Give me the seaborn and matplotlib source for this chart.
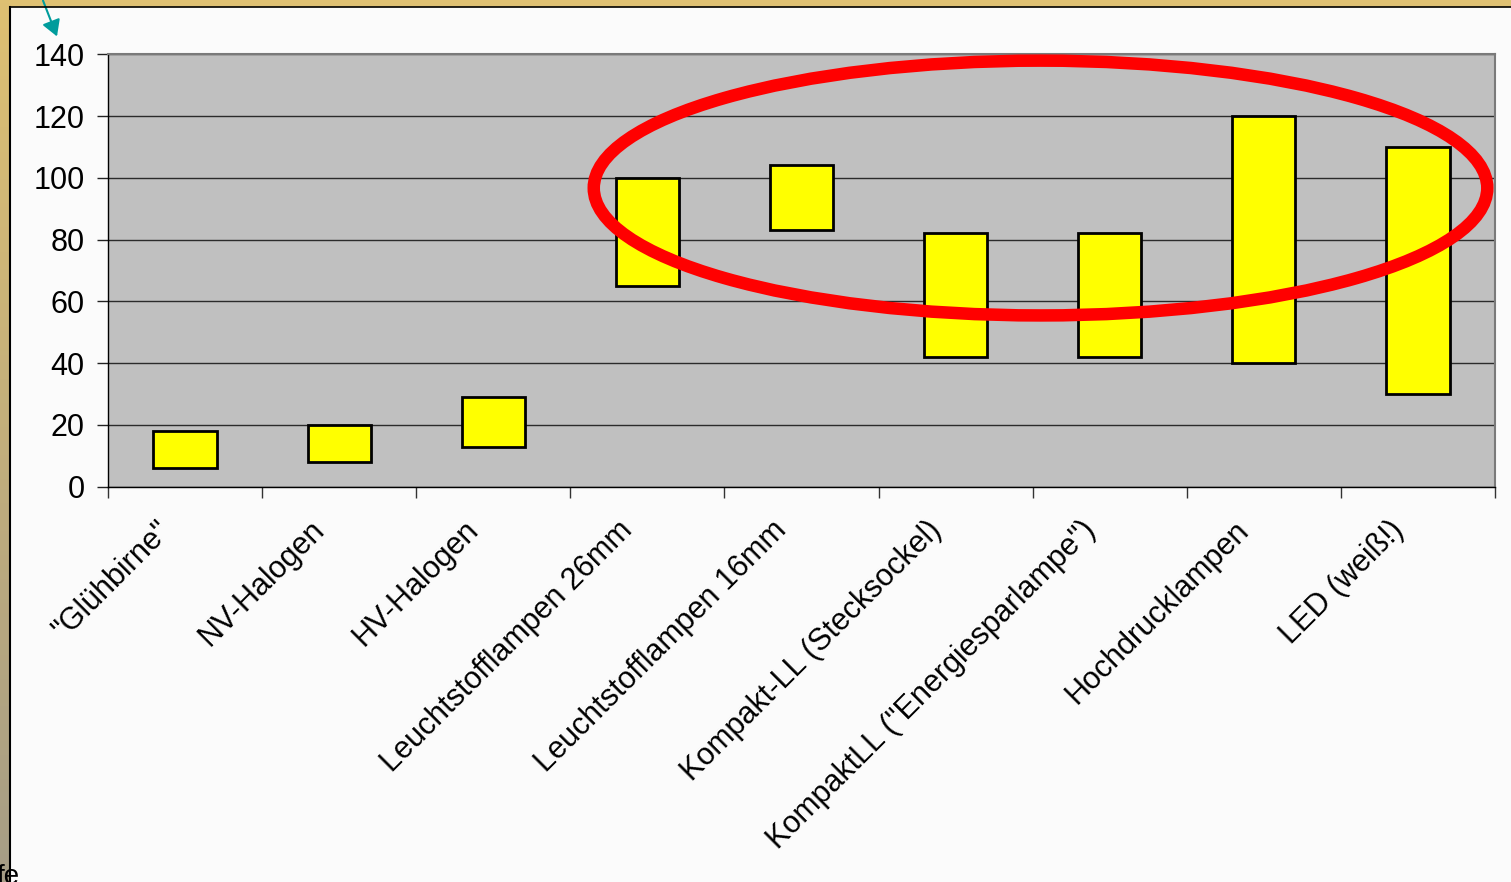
import numpy as np
import pandas as pd
import matplotlib
matplotlib.use('Agg')
import matplotlib.pyplot as plt
import seaborn as sns
from matplotlib.patches import Ellipse, Rectangle, FancyArrowPatch
from matplotlib.transforms import ScaledTranslation
from matplotlib.lines import Line2D
from matplotlib.colors import LinearSegmentedColormap

# ---- data ----
categories = ['"Glühbirne"', 'NV-Halogen', 'HV-Halogen', 'Leuchtstofflampen 26mm',
              'Leuchtstofflampen 16mm', 'Kompakt-LL (Stecksockel)',
              'KompaktLL ("Energiesparlampe")', 'Hochdrucklampen', 'LED (weiß!)']
low = [6, 8, 13, 65, 83, 42, 42, 40, 30]
high = [18, 20, 29, 100, 104, 82, 82, 120, 110]
y_ticks = [0, 20, 40, 60, 80, 100, 120, 140]

plt.rcParams['font.family'] = ['Liberation Sans', 'DejaVu Sans']

W, H = 1511, 882
fig = plt.figure(figsize=(W / 100, H / 100), dpi=100, facecolor='#FBFBFB')

# ---- frame decorations ----
grad_ax = fig.add_axes([0, 0, 9 / W, 1])
grad_ax.axis('off')
cmap = LinearSegmentedColormap.from_list('band', ['#DEC072', '#A69D86'])
grad_ax.imshow(np.linspace(0, 1, 256)[:, None], aspect='auto', cmap=cmap, extent=[0, 1, 0, 1])
fig.add_artist(Rectangle((0, 1 - 6 / H), 1, 6 / H, transform=fig.transFigure,
                         color='#DFC173', zorder=0))
fig.add_artist(Line2D([9.5 / W, 1], [1 - 6.5 / H] * 2, transform=fig.transFigure,
                      color='black', lw=1.2))
fig.add_artist(Line2D([9.5 / W] * 2, [0, 1 - 6.5 / H], transform=fig.transFigure,
                      color='black', lw=1.5))

# ---- main chart ----
ax = fig.add_axes([108 / W, 1 - 486.7 / H, (1495 - 108) / W, (486.7 - 54.3) / H])
df = pd.DataFrame({'Lampe': categories,
                   'Spanne': np.subtract(high, low),
                   'Unten': low})
sns.barplot(data=df, x='Lampe', y='Spanne', order=categories, color='#FFFF00',
            saturation=1, width=0.41, edgecolor='black', linewidth=2.0,
            errorbar=None, bottom=df['Unten'].to_numpy(), ax=ax, zorder=3)

ax.set_facecolor('#C0C0C0')
ax.set_xlim(-0.5, 8.5)
ax.set_ylim(0, 140)
ax.set_yticks(y_ticks)
ax.yaxis.grid(True, color='#2B2B2B', lw=1.0)
ax.xaxis.grid(False)
ax.set_axisbelow(True)
ax.set_xlabel('')
ax.set_ylabel('')
ax.tick_params(axis='y', length=8, width=1, color='#222222', pad=9, labelsize=22)

ax.set_xticks(range(len(categories)))
ax.set_xticklabels(categories, rotation=45, ha='right', va='center', rotation_mode='anchor')
ax.tick_params(axis='x', which='major', length=0, pad=0, labelsize=22)
ax.set_xticks(np.arange(-0.5, len(categories), 1), minor=True)
ax.tick_params(axis='x', which='minor', length=8, width=1, color='#333333')
offset = ScaledTranslation(-0.19, -0.39, fig.dpi_scale_trans)
for lab in ax.get_xticklabels():
    lab.set_transform(lab.get_transform() + offset)

for s in ['top', 'right']:
    ax.spines[s].set_color('#7A7A7A')
    ax.spines[s].set_linewidth(1.5)
for s in ['left', 'bottom']:
    ax.spines[s].set_color('black')
    ax.spines[s].set_linewidth(1.0)

# red highlight ellipse
ax.add_patch(Ellipse((5.551, 96.7), 5.798, 82.5, fill=False, edgecolor='#FF0000',
                     lw=9, clip_on=False, zorder=6))

# teal arrow at top-left
fig.add_artist(FancyArrowPatch((42 / W, 1 + 2 / H), (58 / W, 1 - 39 / H),
                               transform=fig.transFigure,
                               arrowstyle='-|>,head_length=0.6,head_width=0.35',
                               mutation_scale=16, color='#009C9C', lw=1.5))

# cut-off text at bottom-left (as in the reference)
fig.text(-3 / W, -2 / H, 'fe', fontsize=20, color='black', va='baseline', ha='left')

fig.savefig('out.png', dpi=100, facecolor=fig.get_facecolor())
